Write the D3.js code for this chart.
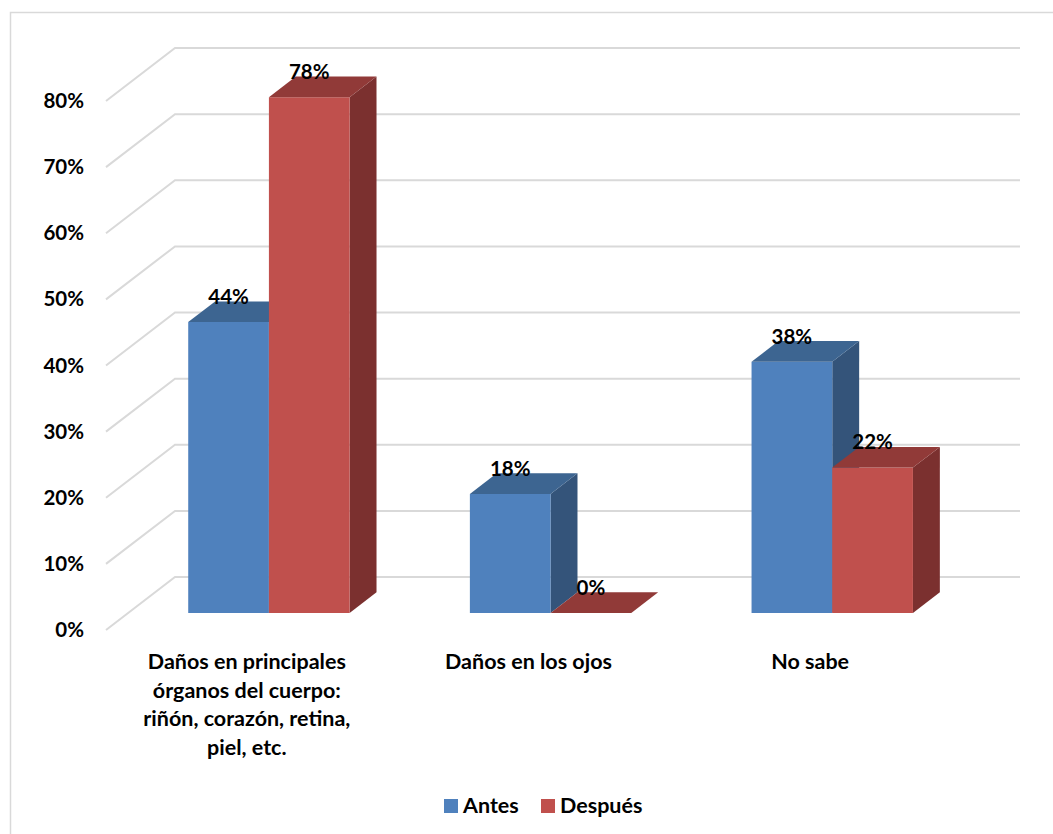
<!DOCTYPE html>
<html>
<head>
<meta charset="utf-8">
<script src="https://cdn.jsdelivr.net/npm/d3@7"></script>
<style>
  html, body { margin: 0; padding: 0; background: #ffffff; }
  svg { display: block; }
  text { font-family: Lato, "Open Sans", sans-serif; font-weight: 700; fill: #000; }
</style>
</head>
<body>
<svg id="chart" width="1053" height="834"></svg>
<script>
// Chart data
const categories = [
  "Daños en principales órganos del cuerpo: riñón, corazón, retina, piel, etc.",
  "Daños en los ojos",
  "No sabe"
];
const categoryLines = [
  ["Daños en principales", "órganos del cuerpo:", "riñón, corazón, retina,", "piel, etc."],
  ["Daños en los ojos"],
  ["No sabe"]
];
const seriesNames = ["Antes", "Después"];
const antes   = [0.44, 0.18, 0.38];
const despues = [0.78, 0.00, 0.22];
const yTicks  = [0, 0.1, 0.2, 0.3, 0.4, 0.5, 0.6, 0.7, 0.8];

const palette = {
  "Antes":   { front: "#4F81BD", top: "#3D6591", side: "#34547A" },
  "Después": { front: "#C0504D", top: "#913A38", side: "#7B302F" }
};

const svg = d3.select("#chart");

// Oblique projection: full depth of the floor shifts points by (depthDx, depthDy)
const depthDx = 69, depthDy = -53;
const project = (x, y, z) => [x + z * depthDx, y + z * depthDy];

const y = d3.scaleLinear().domain([0, 0.8]).range([630, 101]);
const x0 = d3.scaleBand().domain(categories).range([106, 951]).padding(0);
const x1 = d3.scaleBand().domain(seriesNames)
  .range([x0.bandwidth() * 0.2135, x0.bandwidth() * 0.7865]).padding(0);

const zFront = 0.32, zBack = 0.71;

// Outer chart border
svg.append("rect")
  .attr("x", 10.5).attr("y", 12.5)
  .attr("width", 1100).attr("height", 900)
  .attr("fill", "none").attr("stroke", "#d9d9d9").attr("stroke-width", 1.5);

// Gridlines: left wall diagonals and back wall horizontals
const grid = svg.append("g").attr("stroke", "#d9d9d9").attr("stroke-width", 2).attr("fill", "none");
yTicks.forEach(t => {
  const f = project(106, y(t), 0);
  const b = project(106, y(t), 1);
  const e = project(951, y(t), 1);
  grid.append("path").attr("d", d3.line()([f, b, e]));
});

// Y axis labels on the front plane
const yAxis = d3.axisLeft(y).tickValues(yTicks).tickFormat(d3.format(".0%")).tickSize(0).tickPadding(0);
const yg = svg.append("g").attr("transform", "translate(84,0)").call(yAxis);
yg.select(".domain").remove();
yg.selectAll("text")
  .attr("font-family", "Lato, sans-serif").attr("font-weight", 700)
  .attr("font-size", 20.5).attr("fill", "#000");

// Bars as 3D boxes
const rows = categories.map((c, i) => ({ cat: c, values: [
  { key: "Antes", value: antes[i] },
  { key: "Después", value: despues[i] }
]}));

const bars = svg.append("g");
rows.forEach(row => {
  row.values.forEach(d => {
    const c = palette[d.key];
    const xl = x0(row.cat) + x1(d.key);
    const xr = xl + x1.bandwidth();
    const y0 = y(0), yv = y(d.value);
    const p = (xx, yy, z) => project(xx, yy, z);
    const frontPts = [p(xl, y0, zFront), p(xr, y0, zFront), p(xr, yv, zFront), p(xl, yv, zFront)];
    const topPts = [p(xl, yv, zFront), p(xr, yv, zFront), p(xr, yv, zBack), p(xl, yv, zBack)];
    const sidePts = [p(xr, y0, zFront), p(xr, y0, zBack), p(xr, yv, zBack), p(xr, yv, zFront)];
    const poly = pts => "M" + pts.map(q => q.join(",")).join("L") + "Z";
    if (d.value > 0) {
      bars.append("path").attr("d", poly(sidePts)).attr("fill", c.side);
      bars.append("path").attr("d", poly(frontPts)).attr("fill", c.front);
    }
    bars.append("path").attr("d", poly(topPts)).attr("fill", c.top);
  });
});

// Value labels above each bar
const labels = svg.append("g");
rows.forEach(row => {
  row.values.forEach(d => {
    const xl = x0(row.cat) + x1(d.key);
    const cx = project(xl + x1.bandwidth() / 2, y(d.value), zFront)[0];
    const by = project(0, y(d.value), zBack)[1] + 2.5;
    labels.append("text")
      .attr("x", cx).attr("y", by)
      .attr("text-anchor", "middle")
      .attr("font-size", 20.5)
      .text(d3.format(".0%")(d.value));
  });
});

// Category labels
const catG = svg.append("g");
categories.forEach((c, i) => {
  const cx = x0(c) + x0.bandwidth() / 2;
  const t = catG.append("text").attr("text-anchor", "middle").attr("font-size", 21.5);
  categoryLines[i].forEach((line, j) => {
    t.append("tspan").attr("x", cx).attr("y", 669 + j * 28.7).text(line);
  });
});

// Legend
const legend = svg.append("g");
const legendItems = [{ key: "Antes", x: 444 }, { key: "Después", x: 541 }];
legendItems.forEach(it => {
  legend.append("rect").attr("x", it.x).attr("y", 799).attr("width", 14).attr("height", 14)
    .attr("fill", palette[it.key].front);
  legend.append("text").attr("x", it.x + 19).attr("y", 813).attr("font-size", 21.5).text(it.key);
});
</script>
</body>
</html>
